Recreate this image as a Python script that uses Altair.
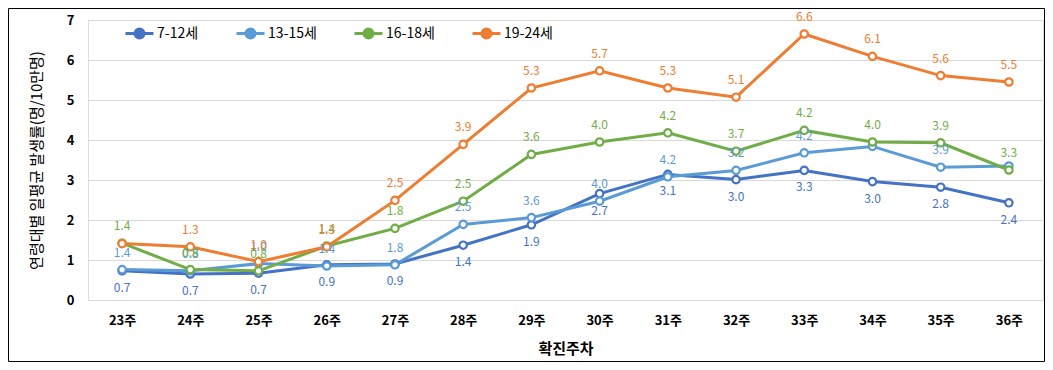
import altair as alt
import pandas as pd

weeks = ["23주", "24주", "25주", "26주", "27주", "28주", "29주", "30주",
         "31주", "32주", "33주", "34주", "35주", "36주"]
series_names = ["7-12세", "13-15세", "16-18세", "19-24세"]
colors = ["#4472C4", "#5B9BD5", "#70AD47", "#ED7D31"]

v_7_12 = [0.73, 0.65, 0.67, 0.88, 0.90, 1.37, 1.88, 2.66, 3.14, 3.01, 3.24, 2.96, 2.82, 2.43]
v_13_15 = [0.76, 0.73, 0.91, 0.85, 0.88, 1.89, 2.06, 2.47, 3.08, 3.24, 3.68, 3.84, 3.32, 3.35]
v_16_18 = [1.42, 0.76, 0.73, 1.35, 1.79, 2.47, 3.64, 3.95, 4.18, 3.72, 4.24, 3.95, 3.93, 3.25]
v_19_24 = [1.41, 1.33, 0.96, 1.33, 2.49, 3.89, 5.30, 5.73, 5.30, 5.07, 6.65, 6.09, 5.61, 5.45]

# data labels as printed on the chart
l_7_12 = ["0.7", "0.7", "0.7", "0.9", "0.9", "1.4", "1.9", "2.7", "3.1", "3.0", "3.3", "3.0", "2.8", "2.4"]
l_13_15 = ["1.4", "0.8", "1.0", "1.4", "1.8", "2.5", "3.6", "4.0", "4.2", "3.2", "4.2", None, "3.9", None]
l_16_18 = ["1.4", "0.8", "0.8", "1.4", "1.8", "2.5", "3.6", "4.0", "4.2", "3.7", "4.2", "4.0", "3.9", "3.3"]
l_19_24 = [None, "1.3", "1.0", "1.3", "2.5", "3.9", "5.3", "5.7", "5.3", "5.1", "6.6", "6.1", "5.6", "5.5"]

values = [v_7_12, v_13_15, v_16_18, v_19_24]
labels = [l_7_12, l_13_15, l_16_18, l_19_24]

rows = []
for si, name in enumerate(series_names):
    for wi, w in enumerate(weeks):
        rows.append({"week": w, "series": name, "order": si,
                     "value": values[si][wi], "label": labels[si][wi]})
df = pd.DataFrame(rows)

KFONT = "Noto Sans CJK KR"

x_enc = alt.X("week:N", sort=weeks, scale=alt.Scale(type="point", padding=0.5),
              axis=alt.Axis(title="확진주차", labelAngle=0, labelFont=KFONT, labelFontSize=13,
                            labelFontWeight="bold", labelColor="#000000", labelPadding=14,
                            titleFont=KFONT, titleFontSize=15, titleFontWeight="bold",
                            titleColor="#000000", titlePadding=14, domain=False, ticks=False,
                            grid=False))
y_enc = alt.Y("value:Q", scale=alt.Scale(domain=[0, 7], nice=False),
              axis=alt.Axis(title="연령대별 일평균 발생률(명/10만명)", values=[0, 1, 2, 3, 4, 5, 6, 7],
                            format="d", labelFont=KFONT, labelFontSize=13, labelFontWeight="bold",
                            labelColor="#000000", labelPadding=14, titleFont=KFONT,
                            titleFontSize=15, titleFontWeight="normal", titleColor="#000000",
                            titlePadding=22, domain=False, ticks=False, gridColor="#D9D9D9",
                            gridWidth=1))

color_scale = alt.Scale(domain=series_names, range=colors)

legend_symbol = ("M-1,0L-0.32,0M0.32,0L1,0"
                 "M0.32,0A0.32,0.32 0 1,1 -0.32,0A0.32,0.32 0 1,1 0.32,0Z")

base = alt.Chart(df)

lines = base.mark_line(strokeWidth=3).encode(
    x=x_enc, y=y_enc,
    color=alt.Color("series:N", scale=color_scale, sort=series_names,
                    legend=alt.Legend(title=None, orient="none", direction="horizontal",
                                      legendX=36, legendY=-2, symbolType=legend_symbol,
                                      symbolSize=784, symbolStrokeWidth=3,
                                      symbolFillColor="white", labelFont=KFONT,
                                      labelFontSize=14, labelColor="#000000",
                                      labelOffset=2, columnPadding=31)),
    order="order:Q",
)

points = base.mark_point(filled=True, fill="white", strokeWidth=2.2, size=55, opacity=1).encode(
    x=x_enc, y=y_enc,
    stroke=alt.Stroke("series:N", scale=color_scale, legend=None),
)

lab_df_filter = alt.datum.label != None

txt_below = base.mark_text(fontSize=12, font=KFONT, dy=17, baseline="middle").encode(
    x=x_enc, y=y_enc, text="label:N",
    color=alt.Color("series:N", scale=color_scale, legend=None),
).transform_filter((alt.datum.series == "7-12세") & lab_df_filter)

txt_above = base.mark_text(fontSize=12, font=KFONT, dy=-17, baseline="middle").encode(
    x=x_enc, y=y_enc, text="label:N",
    color=alt.Color("series:N", scale=color_scale, legend=None),
).transform_filter((alt.datum.series != "7-12세") & lab_df_filter)

frame = alt.Chart(pd.DataFrame({"a": [0]})).mark_rect(
    fill=None, stroke="#000000", strokeWidth=1).encode(
    x=alt.value(-79.5), x2=alt.value(956.5), y=alt.value(-11.5), y2=alt.value(341.5))

chart = alt.layer(frame, lines, points, txt_below, txt_above).properties(
    width=955, height=280,
    autosize=alt.AutoSizeParams(type="none"),
    padding={"left": 80, "top": 12, "right": 2, "bottom": 62},
).configure_view(stroke=None).configure(background="white")

chart.save("out.html", embed_options={"renderer": "svg", "actions": False})
